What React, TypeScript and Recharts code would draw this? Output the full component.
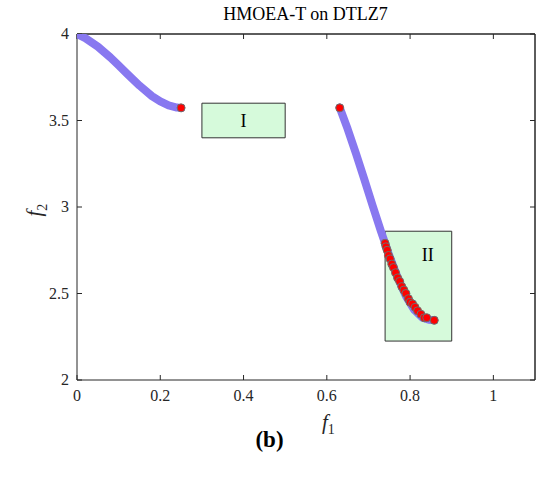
import React from 'react';
import { ScatterChart, Scatter, XAxis, YAxis, ReferenceArea, ReferenceLine } from 'recharts';

// Pareto front segment 1 (f1, f2)
const seg1F1 = [0, 0.02, 0.05, 0.08, 0.1, 0.12, 0.15, 0.18, 0.2, 0.22, 0.24, 0.25];
const seg1F2 = [4.0, 3.976, 3.927, 3.865, 3.819, 3.771, 3.702, 3.641, 3.61, 3.587, 3.575, 3.573];

// Pareto front segment 2 (f1, f2)
const seg2F1 = [0.631, 0.65, 0.67, 0.69, 0.71, 0.73, 0.75, 0.77, 0.79, 0.81, 0.83, 0.845, 0.858];
const seg2F2 = [3.575, 3.451, 3.309, 3.16, 3.008, 2.86, 2.72, 2.593, 2.485, 2.405, 2.36, 2.348, 2.345];

// Solutions found (red dots)
const solF1 = [0.25, 0.631, 0.74, 0.742, 0.745, 0.748, 0.752, 0.756, 0.76, 0.765, 0.77, 0.775, 0.78, 0.785, 0.79, 0.796, 0.8, 0.806, 0.812, 0.818, 0.826, 0.834, 0.84, 0.858];
const solF2 = [3.573, 3.573, 2.79, 2.77, 2.75, 2.72, 2.7, 2.67, 2.65, 2.62, 2.59, 2.57, 2.54, 2.52, 2.5, 2.47, 2.45, 2.44, 2.42, 2.4, 2.38, 2.36, 2.36, 2.345];

const xTicks = [0, 0.2, 0.4, 0.6, 0.8, 1];
const yTicks = [2, 2.5, 3, 3.5, 4];
const xMax = 1.1;
const yMin = 2;
const yMax = 4;

const boxI = { x1: 0.3, x2: 0.5, y1: 3.4, y2: 3.6, label: 'I' };
const boxII = { x1: 0.74, x2: 0.9, y1: 2.225, y2: 2.86, label: 'II' };

const seg1 = seg1F1.map((x, i) => ({ x, y: seg1F2[i] }));
const seg2 = seg2F1.map((x, i) => ({ x, y: seg2F2[i] }));
const sols = solF1.map((x, i) => ({ x, y: solF2[i] }));

const SERIF = 'Liberation Serif';
const axisColor = '#262626';

const Empty = () => <g />;
const RedDot = (p: any) => (
  <circle cx={p.cx} cy={p.cy} r={4} fill="#ff0000" stroke="#6e6e6e" strokeWidth={1} />
);

const XTick = (p: any) => (
  <text x={p.x} y={p.y} dy={14} textAnchor="middle" fontFamily={SERIF} fontSize={16} fill="#262626">
    {String(p.payload.value)}
  </text>
);
const YTick = (p: any) => (
  <text x={p.x} y={p.y} dy={5} textAnchor="end" fontFamily={SERIF} fontSize={16} fill="#262626">
    {String(p.payload.value)}
  </text>
);

const LabelI = (props: any) => {
  const vb = props.viewBox;
  if (!vb) return null;
  return (
    <text x={vb.x + vb.width / 2} y={vb.y + vb.height / 2} dy={6} textAnchor="middle"
      fontFamily={SERIF} fontSize={18} fill="#000">{boxI.label}</text>
  );
};
const LabelII = (props: any) => {
  const vb = props.viewBox;
  if (!vb) return null;
  return (
    <text x={vb.x + vb.width * 0.64} y={vb.y + 24} dy={6} textAnchor="middle"
      fontFamily={SERIF} fontSize={18} fill="#000">{boxII.label}</text>
  );
};

export default function App() {
  return (
    <div style={{ position: 'absolute', left: 0, top: 0, width: 539, height: 477, background: '#fff' }}>
      <ScatterChart width={539} height={477} margin={{ top: 29, right: 0, bottom: 67, left: 47 }}>
        <XAxis xAxisId="b" type="number" dataKey="x" domain={[0, xMax]} ticks={xTicks} allowDataOverflow
          tick={<XTick />} tickSize={-5} tickMargin={12} stroke={axisColor} height={30} />
        <XAxis xAxisId="t" orientation="top" type="number" dataKey="x" domain={[0, xMax]} ticks={xTicks}
          allowDataOverflow tick={<Empty />} tickSize={-5} stroke={axisColor} height={5} />
        <YAxis yAxisId="l" type="number" dataKey="y" domain={[yMin, yMax]} ticks={yTicks} allowDataOverflow
          tick={<YTick />} tickSize={-5} tickMargin={13} stroke={axisColor} width={30} />
        <YAxis yAxisId="r" orientation="right" type="number" dataKey="y" domain={[yMin, yMax]} ticks={yTicks}
          allowDataOverflow tick={<Empty />} tickSize={-5} stroke={axisColor} width={4} />
        <ReferenceLine xAxisId="b" yAxisId="l" y={yMax} stroke={axisColor} strokeWidth={1} ifOverflow="visible" />
        <ReferenceLine xAxisId="b" yAxisId="l" x={xMax} stroke={axisColor} strokeWidth={1} ifOverflow="visible" />
        <ReferenceArea xAxisId="b" yAxisId="l" x1={boxI.x1} x2={boxI.x2} y1={boxI.y1} y2={boxI.y2}
          fill="#d6fadb" fillOpacity={1} stroke="#333" strokeWidth={1} label={<LabelI />} />
        <ReferenceArea xAxisId="b" yAxisId="l" x1={boxII.x1} x2={boxII.x2} y1={boxII.y1} y2={boxII.y2}
          fill="#d6fadb" fillOpacity={1} stroke="#333" strokeWidth={1} label={<LabelII />} />
        <Scatter xAxisId="t" yAxisId="r" data={sols} isAnimationActive={false} shape={<Empty />} />
        <Scatter xAxisId="b" yAxisId="l" data={seg1} isAnimationActive={false} shape={<Empty />}
          line={{ stroke: '#8878f0', strokeWidth: 8, strokeLinecap: 'round', strokeLinejoin: 'round' }} lineType="joint" />
        <Scatter xAxisId="b" yAxisId="l" data={seg2} isAnimationActive={false} shape={<Empty />}
          line={{ stroke: '#8878f0', strokeWidth: 8, strokeLinecap: 'round', strokeLinejoin: 'round' }} lineType="joint" />
        <Scatter xAxisId="b" yAxisId="l" data={sols} isAnimationActive={false} shape={<RedDot />} />
      </ScatterChart>
      <div style={{ position: 'absolute', left: 0, width: 611, top: 4, textAlign: 'center', fontFamily: SERIF, fontSize: 18, color: '#000', lineHeight: '20px' }}>
        HMOEA-T on DTLZ7
      </div>
      <div style={{ position: 'absolute', left: 322, top: 410, fontFamily: SERIF, fontSize: 21, fontStyle: 'italic', color: '#262626', lineHeight: '24px' }}>
        f<sub style={{ fontSize: 14, fontStyle: 'normal' }}>1</sub>
      </div>
      <div style={{ position: 'absolute', left: 32, top: 194, fontFamily: SERIF, fontSize: 21, fontStyle: 'italic', color: '#262626', lineHeight: '24px', transform: 'rotate(-90deg)', transformOrigin: 'center' }}>
        f<sub style={{ fontSize: 14, fontStyle: 'normal' }}>2</sub>
      </div>
      <div style={{ position: 'absolute', left: 0, width: 539, top: 426, textAlign: 'center', fontFamily: SERIF, fontSize: 23, fontWeight: 'bold', color: '#000', lineHeight: '28px' }}>
        (b)
      </div>
    </div>
  );
}
